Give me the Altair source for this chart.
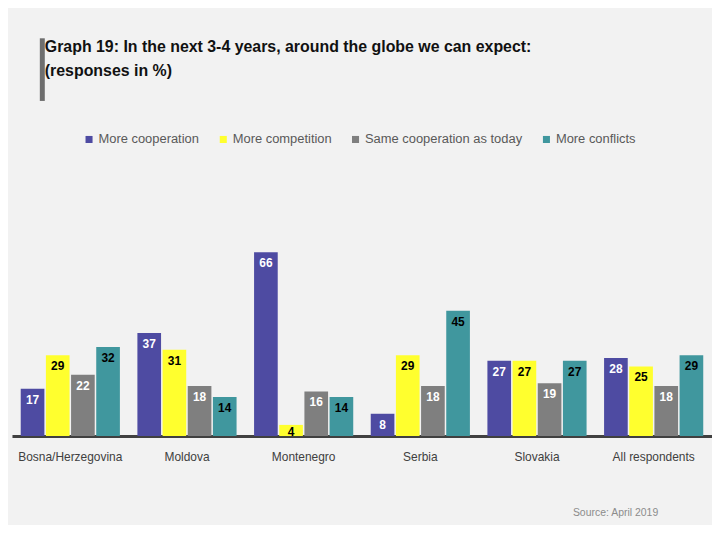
import altair as alt
import pandas as pd

categories = ["Bosna/Herzegovina", "Moldova", "Montenegro", "Serbia", "Slovakia", "All respondents"]
series = ["More cooperation", "More competition", "Same cooperation as today", "More conflicts"]
more_cooperation = [17, 37, 66, 8, 27, 28]
more_competition = [29, 31, 4, 29, 27, 25]
same_cooperation = [22, 18, 16, 18, 19, 18]
more_conflicts = [32, 14, 14, 45, 27, 29]
colors = ["#4E4BA2", "#FFFF2E", "#7F7F7F", "#40979E"]

values = [more_cooperation, more_competition, same_cooperation, more_conflicts]
rows = []
for s, vals in zip(series, values):
    for c, v in zip(categories, vals):
        rows.append({"category": c, "series": s, "value": v})
df = pd.DataFrame(rows)

FONT = "Liberation Sans"

xenc = alt.X("category:N", sort=categories, title=None,
             scale=alt.Scale(paddingInner=0.15, paddingOuter=0.075),
             axis=alt.Axis(labelAngle=0, ticks=False, grid=False, domainColor="#404040",
                           domainWidth=3, labelFontSize=12, labelColor="#404040",
                           labelFont=FONT, labelPadding=16))
xoff = alt.XOffset("series:N", sort=series, scale=alt.Scale(paddingInner=0.06))
yscale = alt.Scale(domain=[0, 70])

bars = alt.Chart(df).mark_bar().encode(
    x=xenc, xOffset=xoff,
    y=alt.Y("value:Q", scale=yscale, axis=None),
    color=alt.Color("series:N", sort=series,
                    scale=alt.Scale(domain=series, range=colors),
                    legend=alt.Legend(title=None, orient="none", direction="horizontal",
                                      legendX=71, legendY=-109, symbolType="square",
                                      symbolSize=50, labelFontSize=13, labelColor="#595959",
                                      labelFont=FONT, columnPadding=17, symbolOffset=0,
                                      labelOffset=3, labelLimit=400))
)

labels = alt.Chart(df).transform_calculate(
    ly="max(datum.value, 5.5)"
).mark_text(baseline="middle", dy=11, fontSize=12, fontWeight="bold", font=FONT).encode(
    x=xenc, xOffset=xoff,
    y=alt.Y("ly:Q", scale=yscale, axis=None),
    text=alt.Text("value:Q"),
    color=alt.condition(
        alt.FieldOneOfPredicate(field="series", oneOf=["More cooperation", "Same cooperation as today"]),
        alt.value("white"), alt.value("black")),
)

title1 = alt.Chart(pd.DataFrame({"t": ["Graph 19: In the next 3-4 years, around the globe we can expect:"]})).mark_text(
    align="left", baseline="middle", fontSize=16, fontWeight="bold", font=FONT, color="#111111"
).encode(text="t:N", x=alt.value(33), y=alt.value(-195))

title2 = alt.Chart(pd.DataFrame({"t": ["(responses in %)"]})).mark_text(
    align="left", baseline="middle", fontSize=16, fontWeight="bold", font=FONT, color="#111111"
).encode(text="t:N", x=alt.value(33), y=alt.value(-171))

bar_rule = alt.Chart(pd.DataFrame({"a": [1]})).mark_rule(color="#6E6E6E", strokeWidth=5).encode(
    x=alt.value(30.5), y=alt.value(-204), y2=alt.value(-141))

source = alt.Chart(pd.DataFrame({"t": ["Source: April 2019"]})).mark_text(
    align="center", baseline="middle", fontSize=10.5, font=FONT, color="#8C8C8C"
).encode(text="t:N", x=alt.value(607), y=alt.value(273))

chart = alt.layer(bars, labels, title1, title2, bar_rule, source).properties(
    width=704, height=196,
    autosize=alt.AutoSizeParams(type="none"),
    padding={"left": 4, "top": 233, "right": 0, "bottom": 88},
    background="#F2F2F2",
).configure_view(stroke=None)

chart.save("out.html", embed_options={"renderer": "svg", "actions": False})
